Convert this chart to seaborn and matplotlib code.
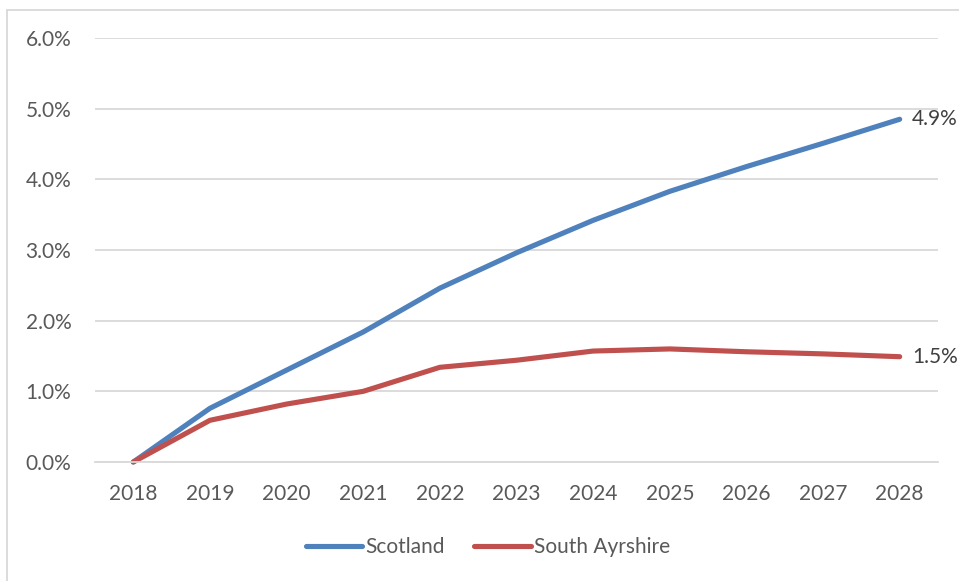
import matplotlib
matplotlib.use("Agg")
import matplotlib.pyplot as plt
import seaborn as sns
import pandas as pd
from matplotlib.lines import Line2D
from matplotlib.ticker import FuncFormatter

years = ["2018", "2019", "2020", "2021", "2022", "2023", "2024", "2025", "2026", "2027", "2028"]
scotland = [0.0, 0.0076, 0.0130, 0.0184, 0.0246, 0.0296, 0.0342, 0.0383, 0.0418, 0.0451, 0.0485]
south_ayrshire = [0.0, 0.0059, 0.0082, 0.0100, 0.0134, 0.0144, 0.0157, 0.0160, 0.0156, 0.0153, 0.0149]
series_names = ["Scotland", "South Ayrshire"]
end_labels = ["4.9%", "1.5%"]
colors = ["#4F81BD", "#C0504D"]

df = pd.DataFrame({
    "year": years * 2,
    "value": scotland + south_ayrshire,
    "series": [series_names[0]] * len(years) + [series_names[1]] * len(years),
})

sns.set_theme(style="white")
plt.rcParams["font.family"] = ["Lato", "DejaVu Sans"]

fig = plt.figure(figsize=(9.59, 5.81), dpi=100)
ax = fig.add_axes([95 / 959, 1 - 462 / 581, (938 - 95) / 959, (462 - 38) / 581])

sns.lineplot(data=df, x="year", y="value", hue="series", palette=colors,
             linewidth=3.7, ax=ax, sort=False, legend=False,
             solid_capstyle="round", solid_joinstyle="round", clip_on=False)

ax.set_xlim(-0.5, len(years) - 0.5)
ax.set_ylim(0, 0.06)
ax.set_yticks([0, 0.01, 0.02, 0.03, 0.04, 0.05, 0.06])
ax.yaxis.set_major_formatter(FuncFormatter(lambda v, p: f"{v*100:.1f}%"))
ax.grid(axis="y", color="#D9D9D9", linewidth=1.3)
ax.grid(axis="x", visible=False)
ax.set_axisbelow(True)
for s in ["top", "right", "left"]:
    ax.spines[s].set_visible(False)
ax.spines["bottom"].set_color("#D9D9D9")
ax.spines["bottom"].set_linewidth(1.3)
ax.tick_params(axis="both", length=0, labelsize=15, labelcolor="#595959")
ax.tick_params(axis="y", pad=17)
ax.tick_params(axis="x", pad=15.5)
ax.set_xlabel("")
ax.set_ylabel("")

last = len(years) - 1
for vals, lab in zip([scotland, south_ayrshire], end_labels):
    ax.annotate(lab, xy=(last, vals[-1]), xytext=(9, 0), textcoords="offset points",
                ha="left", va="center", fontsize=15, color="#404040",
                annotation_clip=False)

handles = [Line2D([0], [0], color=c, linewidth=3.7, solid_capstyle="round") for c in colors]
fig.legend(handles, series_names, loc="center", bbox_to_anchor=(488 / 959, 1 - 547 / 581),
           ncol=2, frameon=False, fontsize=15, labelcolor="#595959",
           handlelength=2.7, handletextpad=0.15, columnspacing=1.4)

fig.add_artist(Line2D([6.5 / 959, 6.5 / 959], [0, 1 - 9.5 / 581], transform=fig.transFigure,
                      color="#D9D9D9", linewidth=1.3))
fig.add_artist(Line2D([6.5 / 959, 1], [1 - 9.5 / 581, 1 - 9.5 / 581], transform=fig.transFigure,
                      color="#D9D9D9", linewidth=1.3))

fig.savefig("out.png", dpi=100, facecolor="white")
